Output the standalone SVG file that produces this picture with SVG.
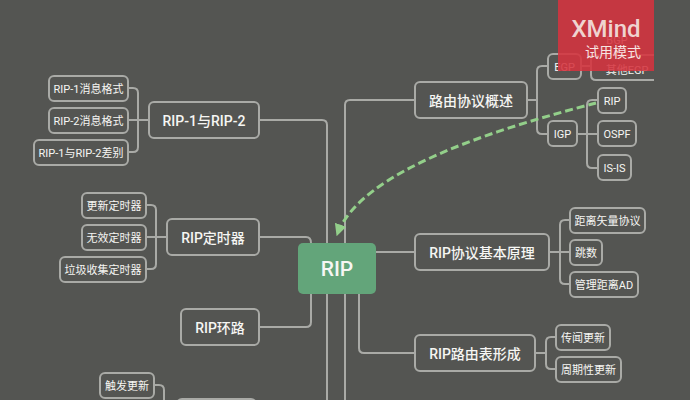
<svg xmlns="http://www.w3.org/2000/svg" width="690" height="400" viewBox="0 0 690 400">
<defs>
<style>
text{font-family:"Roboto","Noto Sans CJK SC",sans-serif;fill:#f6f6f3;text-anchor:middle;dominant-baseline:central}
.n rect{fill:#545552;stroke:#a9aaa6;stroke-width:2}
.m text{font-size:14px;font-weight:500}
.s text{font-size:11px}
#connectors path{fill:none;stroke:#a9aaa6;stroke-width:2}
</style>
<marker id="ah" markerWidth="4" markerHeight="4" refX="3.600" refY="2" orient="auto"><path d="M0 0L4 2L0 4z" fill="#93cf8a"/></marker>
</defs>
<rect width="690" height="400" fill="#545552"/>
<g id="connectors">
<path d="M259 120H322Q327 120 327 125V400"/>
<path d="M259 237H306Q311 237 311 243"/>
<path d="M259 327H306Q311 327 311 322V294"/>
<path d="M415 100H350Q345 100 345 105V400"/>
<path d="M376 252H415"/>
<path d="M359 294V348Q359 353 364 353H415"/>
<path d="M128 88H133Q138 88 138 93V147Q138 152 133 152H128M128 120H149"/>
<path d="M146 205H151Q156 205 156 210V264Q156 269 151 269H146M146 237H167"/>
<path d="M154 385H159Q164 385 164 390V400"/>
<path d="M527 100H537M548 66H542Q537 66 537 71V129Q537 134 542 134H548M581 66H591"/>
<path d="M577 134H598M598 100H592Q587 100 587 105V163Q587 168 592 168H598"/>
<path d="M549 252H570M570 220H565Q560 220 560 225V279Q560 284 565 284H570"/>
<path d="M535 353H546M556 337H551Q546 337 546 342V364Q546 369 551 369H556"/>
</g>
<g id="n-rip1" class="n s"><rect x="49" y="76" width="79" height="25" rx="5"/><text x="88.500" y="89">RIP-1消息格式</text></g>
<g id="n-rip2" class="n s"><rect x="49" y="108" width="79" height="25" rx="5"/><text x="88.500" y="121">RIP-2消息格式</text></g>
<g id="n-diff" class="n s"><rect x="34" y="140" width="94" height="25" rx="5"/><text x="81" y="153">RIP-1与RIP-2差别</text></g>
<g id="n-rip12" class="n m"><rect x="149" y="102" width="110" height="36" rx="5"/><text x="204" y="120.500">RIP-1与RIP-2</text></g>
<g id="n-upd" class="n s"><rect x="82" y="193" width="64" height="25" rx="5"/><text x="114" y="206">更新定时器</text></g>
<g id="n-inv" class="n s"><rect x="82" y="225" width="64" height="25" rx="5"/><text x="114" y="238">无效定时器</text></g>
<g id="n-gc" class="n s"><rect x="60" y="257" width="86" height="25" rx="5"/><text x="103" y="270">垃圾收集定时器</text></g>
<g id="n-timer" class="n m"><rect x="167" y="219" width="92" height="36" rx="5"/><text x="213" y="237.500">RIP定时器</text></g>
<g id="n-loop" class="n m"><rect x="181" y="309" width="78" height="36" rx="5"/><text x="220" y="327.500">RIP环路</text></g>
<g id="n-trig" class="n s"><rect x="100" y="373" width="54" height="25" rx="5"/><text x="127" y="386">触发更新</text></g>
<g id="n-bottom" class="n m"><rect x="177" y="399" width="79" height="36" rx="5"/></g>
<g id="n-root"><rect x="298" y="243" width="78" height="51" rx="5" fill="#63a57a"/><text x="337" y="268.500" style="font-size:21px;font-weight:500">RIP</text></g>
<g id="n-overview" class="n m"><rect x="415" y="82" width="112" height="36" rx="5"/><text x="471" y="100.500">路由协议概述</text></g>
<g id="n-egp" class="n s"><rect x="548" y="54" width="33" height="25" rx="5"/><text x="564.500" y="67">EGP</text></g>
<g id="n-bgp" class="s"><text x="617" y="40">BGP</text></g>
<g id="n-other" class="s"><path d="M654 55H596Q591 55 591 60V75Q591 80 596 80H654" fill="none" stroke="#a9aaa6" stroke-width="2"/><text x="627" y="70">其他EGP</text></g>
<g id="n-igp" class="n s"><rect x="548" y="121" width="29" height="25" rx="5"/><text x="562.500" y="134">IGP</text></g>
<g id="n-r" class="n s"><rect x="598" y="88" width="28" height="25" rx="5"/><text x="612" y="101">RIP</text></g>
<g id="n-ospf" class="n s"><rect x="598" y="121" width="38" height="25" rx="5"/><text x="617" y="134">OSPF</text></g>
<g id="n-isis" class="n s"><rect x="598" y="155" width="33" height="25" rx="5"/><text x="614.500" y="168">IS-IS</text></g>
<g id="n-basic" class="n m"><rect x="415" y="234" width="134" height="36" rx="5"/><text x="482" y="252.500">RIP协议基本原理</text></g>
<g id="n-dv" class="n s"><rect x="570" y="208" width="75" height="25" rx="5"/><text x="607.500" y="221">距离矢量协议</text></g>
<g id="n-hop" class="n s"><rect x="570" y="240" width="32" height="25" rx="5"/><text x="586" y="253">跳数</text></g>
<g id="n-ad" class="n s"><rect x="570" y="272" width="68" height="25" rx="5"/><text x="604" y="285">管理距离AD</text></g>
<g id="n-table" class="n m"><rect x="415" y="335" width="120" height="36" rx="5"/><text x="475" y="353.500">RIP路由表形成</text></g>
<g id="n-rumor" class="n s"><rect x="556" y="325" width="54" height="25" rx="5"/><text x="583" y="338">传闻更新</text></g>
<g id="n-period" class="n s"><rect x="556" y="357" width="65" height="25" rx="5"/><text x="588.500" y="370">周期性更新</text></g>
<g id="relationship"><path d="M596 103C500 128 360 170 337 235" fill="none" stroke="#93cf8a" stroke-width="3" stroke-dasharray="8 4" marker-end="url(#ah)"/></g>
<g id="watermark"><rect x="558" y="0" width="96" height="71" fill="#d5333f" fill-opacity="0.88"/>
<text x="606" y="29" style="font-size:24px;font-weight:500;fill:#efd3d0">XMind</text><text x="613" y="52" style="font-size:14px;fill:#f7e4e2">试用模式</text></g>
</svg>
